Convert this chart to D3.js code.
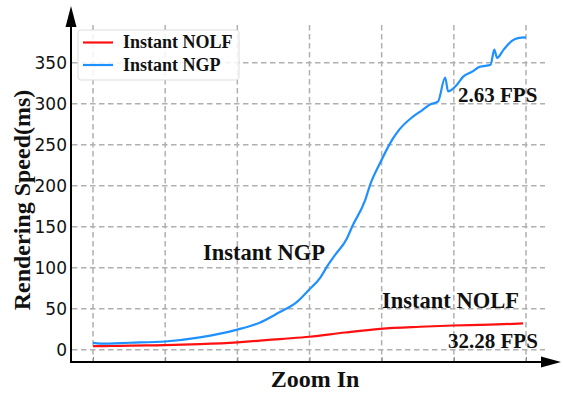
<!DOCTYPE html>
<html lang="en">
    <head>
        <meta charset="utf-8">
        <title>Rendering Speed</title>
        <script src="https://d3js.org/d3.v7.min.js"></script>
        <style type="text/css">
            body { margin: 0; background: white; }
            .ticklab { font-family: "DejaVu Sans", sans-serif; font-size: 17px; fill: #111; }
            .serif { font-family: "Liberation Serif", "Times New Roman", serif; font-weight: bold; fill: #111; }
        </style>
    </head>
    <body>
        <script type="text/javascript">
            // data (x = zoom step, y = ms)
            const nolfX = [0, 0.24, 0.51, 1.0, 1.48, 2.0, 2.31, 2.59, 3.0, 3.49, 3.98, 4.53, 4.99, 5.5, 5.96];
            const nolfY = [4.3, 4.5, 5, 5.5, 6.8, 9, 11, 13, 15.8, 21, 25.5, 28, 29.5, 30.5, 32];

            const ngpX = [0, 0.10, 0.51, 1.0, 1.48, 2.0, 2.31, 2.59, 2.81, 2.99, 3.15, 3.24, 3.35, 3.52, 3.59, 3.77,
                          3.84, 3.98, 4.07, 4.16, 4.25, 4.43, 4.56, 4.67, 4.78, 4.88, 4.92, 5.03, 5.13, 5.25, 5.36,
                          5.51, 5.56, 5.60, 5.69, 5.81, 5.89, 6.0];
            const ngpY = [8.3, 7.5, 8.5, 10, 15, 24.5, 33, 46, 57, 72.7, 88, 101, 115, 136, 150, 182,
                          201, 228, 244, 258, 269, 284, 292, 299, 302.5, 332, 315, 322, 333, 339, 345,
                          347.5, 366, 356, 366, 377, 380, 381];

            const yTicks = [0, 50, 100, 150, 200, 250, 300, 350];
            const xTicks = [0, 1, 2, 3, 4, 5, 6];

            const w = 563;
            const h = 395;

            const x = d3.scaleLinear().domain([0, 6]).range([93, 526]);
            const y = d3.scaleLinear().domain([-15, 396]).range([362, 25]);

            const svg = d3.select("body")
                          .append("svg")
                          .attr("width", w)
                          .attr("height", h);

            //grid
            svg.append("g").selectAll("line.hg")
               .data(yTicks)
               .enter()
               .append("line")
               .attr("x1", 72).attr("x2", 545)
               .attr("y1", d => y(d)).attr("y2", d => y(d))
               .attr("stroke", "#b0b0b0").attr("stroke-width", 1.5)
               .attr("stroke-dasharray", "5.5,3.5");

            svg.append("g").selectAll("line.vg")
               .data(xTicks)
               .enter()
               .append("line")
               .attr("x1", d => x(d)).attr("x2", d => x(d))
               .attr("y1", 25).attr("y2", 362)
               .attr("stroke", "#b0b0b0").attr("stroke-width", 1.5)
               .attr("stroke-dasharray", "5.5,3.5");

            //x axis ticks
            const xAxis = d3.axisBottom(x).tickValues(xTicks).tickSize(-5).tickFormat("");
            const gx = svg.append("g").attr("transform", "translate(0,362)").call(xAxis);
            gx.select(".domain").remove();
            gx.selectAll(".tick line").attr("stroke", "#888").attr("stroke-width", 1);

            //y tick labels
            const yAxis = d3.axisLeft(y).tickValues(yTicks).tickSize(0).tickPadding(5);
            const gy = svg.append("g").attr("transform", "translate(72,0)").call(yAxis);
            gy.select(".domain").remove();
            gy.selectAll(".tick text").attr("class", "ticklab").attr("font-size", null).attr("font-family", null);

            //lines
            const line = d3.line().x(d => x(d[0])).y(d => y(d[1])).curve(d3.curveMonotoneX);
            svg.append("path")
               .datum(d3.zip(nolfX, nolfY))
               .attr("fill", "none").attr("stroke", "#ff1010").attr("stroke-width", 2.2)
               .attr("d", line);
            svg.append("path")
               .datum(d3.zip(ngpX, ngpY))
               .attr("fill", "none").attr("stroke", "#1e90ff").attr("stroke-width", 2.2)
               .attr("stroke-linejoin", "round")
               .attr("d", line);

            //axis lines with arrows
            svg.append("line").attr("x1", 71).attr("x2", 71).attr("y1", 363).attr("y2", 20)
               .attr("stroke", "black").attr("stroke-width", 2);
            svg.append("path").attr("d", "M71,6 L65.5,27 L76.5,27 Z").attr("fill", "black");
            svg.append("line").attr("x1", 70).attr("x2", 548).attr("y1", 362).attr("y2", 362)
               .attr("stroke", "black").attr("stroke-width", 2);
            svg.append("path").attr("d", "M561,362 L541,356.5 L541,367.5 Z").attr("fill", "black");

            //legend
            svg.append("rect").attr("x", 78).attr("y", 30).attr("width", 161).attr("height", 50)
               .attr("rx", 3).attr("fill", "white").attr("fill-opacity", 0.85)
               .attr("stroke", "#dddddd").attr("stroke-width", 1);
            const legend = [["Instant NOLF", "#ff1010", 42.5], ["Instant NGP", "#1e90ff", 65]];
            legend.forEach(l => {
                svg.append("line").attr("x1", 83).attr("x2", 113).attr("y1", l[2]).attr("y2", l[2])
                   .attr("stroke", l[1]).attr("stroke-width", 2.2);
                svg.append("text").attr("class", "serif").attr("x", 123).attr("y", l[2] + 5.5)
                   .attr("font-size", "18px").text(l[0]);
            });

            //annotations
            svg.append("text").attr("class", "serif").attr("x", 203).attr("y", 260).attr("font-size", "22.5px").text("Instant NGP");
            svg.append("text").attr("class", "serif").attr("x", 382).attr("y", 308).attr("font-size", "22.5px").text("Instant NOLF");
            svg.append("text").attr("class", "serif").attr("x", 458).attr("y", 102).attr("font-size", "21px").text("2.63 FPS");
            svg.append("text").attr("class", "serif").attr("x", 448).attr("y", 348).attr("font-size", "21px").text("32.28 FPS");

            //axis titles
            svg.append("text").attr("class", "serif").attr("x", 315).attr("y", 387)
               .attr("text-anchor", "middle").attr("font-size", "24px").text("Zoom In");
            svg.append("text").attr("class", "serif")
               .attr("transform", "translate(30,200) rotate(-90)")
               .attr("text-anchor", "middle").attr("font-size", "24px").text("Rendering Speed(ms)");
        </script>
    </body>
</html>
